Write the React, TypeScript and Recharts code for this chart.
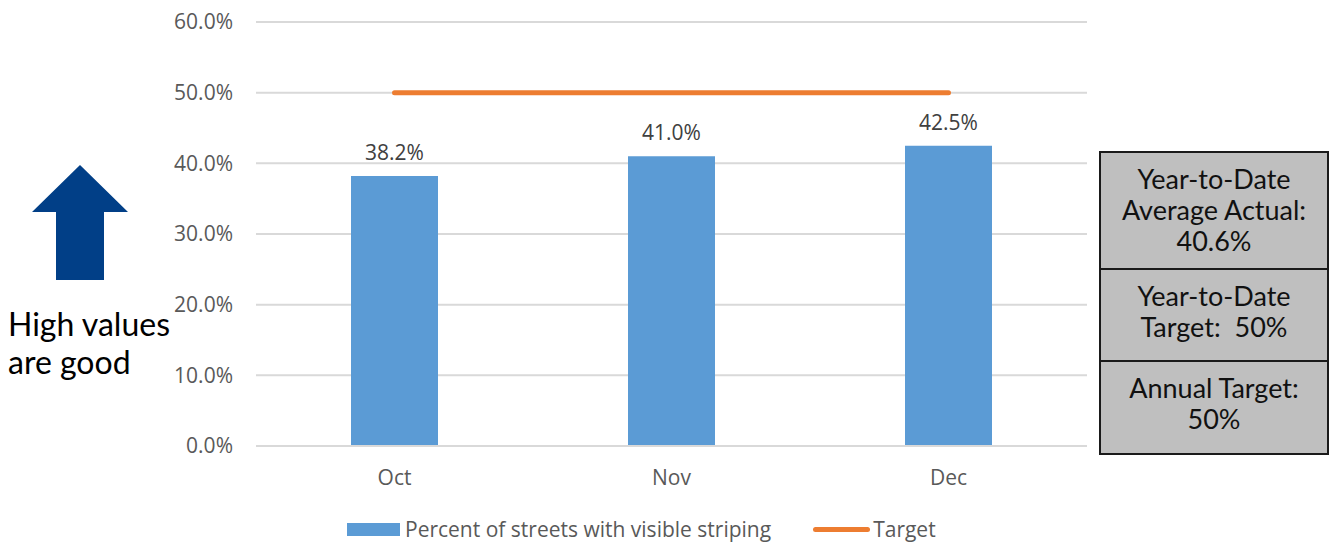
import { ComposedChart, Bar, Line, XAxis, YAxis, CartesianGrid, LabelList } from "recharts"

// chart data
const months = ["Oct", "Nov", "Dec"]
const percentStriped = [38.2, 41.0, 42.5]
const targetValues = [50, 50, 50]
const yTicks = [0, 10, 20, 30, 40, 50, 60]

const barName = "Percent of streets with visible striping"
const lineName = "Target"

const sideBoxes = [
  ["Year-to-Date", "Average Actual:", "40.6%"],
  ["Year-to-Date", "Target:  50%"],
  ["Annual Target:", "50%"],
]
const noteLines = ["High values", "are good"]

const BLUE = "#5b9bd5"
const ORANGE = "#ed7d31"
const GRID = "#d9d9d9"
const TICK = "#595959"
const FONT = "'Open Sans', sans-serif"

const data = months.map((m, i) => ({ month: m, actual: percentStriped[i], target: targetValues[i] }))

function UpArrow() {
  return (
    <svg width={140} height={130} style={{ position: "absolute", left: 0, top: 160 }}>
      <polygon points="80,5 128,52 104,52 104,120 56,120 56,52 32,52" fill="#013f87" />
    </svg>
  )
}

function SideBoxes() {
  const heights = [115, 92, 93]
  return (
    <div
      style={{
        position: "absolute",
        left: 1099,
        top: 151,
        width: 226,
        border: "2px solid #1a1a1a",
        background: "#bfbfbf",
        fontFamily: "Lato, sans-serif",
        fontSize: 27,
        color: "#111",
        textAlign: "center",
        lineHeight: "31px",
      }}
    >
      {sideBoxes.map((lines, i) => (
        <div
          key={i}
          style={{
            height: heights[i],
            borderTop: i > 0 ? "2px solid #1a1a1a" : "none",
            boxSizing: "border-box",
            paddingTop: 10,
            whiteSpace: "pre",
          }}
        >
          {lines.map((l, j) => (
            <div key={j}>{l}</div>
          ))}
        </div>
      ))}
    </div>
  )
}

function LegendRow() {
  return (
    <div
      style={{
        position: "absolute",
        left: 347,
        top: 515,
        display: "flex",
        alignItems: "center",
        fontFamily: FONT,
        fontSize: 21,
        color: TICK,
        whiteSpace: "nowrap",
      }}
    >
      <span style={{ width: 53, height: 13, background: BLUE, display: "inline-block", marginRight: 5 }} />
      <span>{barName}</span>
      <span
        style={{ width: 57, height: 5, borderRadius: 3, background: ORANGE, display: "inline-block", marginLeft: 42, marginRight: 3 }}
      />
      <span>{lineName}</span>
    </div>
  )
}

export default function App() {
  return (
    <div style={{ position: "absolute", left: 0, top: 0, width: 1330, height: 544, background: "#fff", overflow: "hidden" }}>
      <ComposedChart
        width={1330}
        height={544}
        data={data}
        margin={{ top: 22, right: 243, bottom: 48, left: 0 }}
        style={{ fontFamily: FONT }}
      >
        <CartesianGrid vertical={false} stroke={GRID} strokeWidth={2} />
        <XAxis
          dataKey="month"
          axisLine={{ stroke: GRID, strokeWidth: 2 }}
          tickLine={false}
          tick={{ fill: TICK, fontSize: 21 }}
          tickMargin={18}
          height={50}
        />
        <YAxis
          domain={[0, 60]}
          ticks={yTicks}
          tickFormatter={(v: number) => `${v.toFixed(1)}%`}
          axisLine={false}
          tickLine={false}
          tick={{ fill: TICK, fontSize: 21 }}
          tickMargin={23}
          tickSize={0}
          width={256}
        />
        <Bar dataKey="actual" name={barName} fill={BLUE} barSize={87} isAnimationActive={false}>
          <LabelList
            dataKey="actual"
            position="top"
            offset={16}
            formatter={(v: number) => `${v.toFixed(1)}%`}
            style={{ fill: "#404040", fontSize: 21, fontFamily: FONT }}
          />
        </Bar>
        <Line
          dataKey="target"
          name={lineName}
          stroke={ORANGE}
          strokeWidth={5}
          strokeLinecap="round"
          dot={false}
          activeDot={false}
          isAnimationActive={false}
        />
      </ComposedChart>
      <UpArrow />
      <div
        style={{
          position: "absolute",
          left: 8,
          top: 305,
          fontFamily: "Lato, sans-serif",
          fontSize: 32,
          lineHeight: "38px",
          color: "#000",
        }}
      >
        {noteLines.map((l) => (
          <div key={l}>{l}</div>
        ))}
      </div>
      <SideBoxes />
      <LegendRow />
    </div>
  )
}
